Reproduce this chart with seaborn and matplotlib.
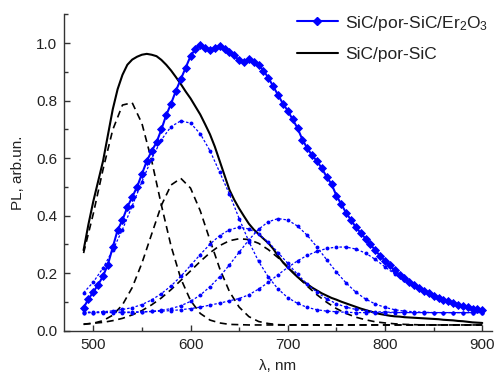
import numpy as np
import pandas as pd
import matplotlib
matplotlib.use("Agg")
import matplotlib.pyplot as plt
from matplotlib.lines import Line2D
from matplotlib.ticker import MultipleLocator
import seaborn as sns

# ---------------- data ----------------
# main spectra (5 nm step)
wl_main = list(range(490, 901, 5))
pl_er = [0.08, 0.11, 0.135, 0.16, 0.19, 0.23, 0.29, 0.35, 0.385, 0.43,
         0.465, 0.50, 0.545, 0.59, 0.625, 0.655, 0.70, 0.75, 0.79, 0.835,
         0.875, 0.915, 0.955, 0.98, 0.995, 0.985, 0.975, 0.985, 0.99, 0.98,
         0.968, 0.958, 0.94, 0.935, 0.945, 0.935, 0.925, 0.905, 0.88, 0.85,
         0.82, 0.79, 0.765, 0.735, 0.705, 0.665, 0.635, 0.61, 0.59, 0.565,
         0.535, 0.51, 0.47, 0.44, 0.41, 0.385, 0.36, 0.34, 0.32, 0.30,
         0.28, 0.26, 0.243, 0.227, 0.21, 0.195, 0.182, 0.17, 0.158, 0.148,
         0.139, 0.13, 0.122, 0.115, 0.108, 0.102, 0.096, 0.091, 0.086, 0.081,
         0.077, 0.074, 0.071]
pl_sic = [0.28, 0.37, 0.45, 0.52, 0.59, 0.68, 0.77, 0.84, 0.89, 0.925,
          0.943, 0.953, 0.96, 0.963, 0.96, 0.955, 0.942, 0.925, 0.905, 0.882,
          0.858, 0.832, 0.808, 0.78, 0.752, 0.718, 0.683, 0.64, 0.59, 0.54,
          0.49, 0.455, 0.425, 0.398, 0.372, 0.352, 0.336, 0.32, 0.305, 0.285,
          0.26, 0.238, 0.22, 0.203, 0.187, 0.173, 0.162, 0.15, 0.14, 0.13,
          0.122, 0.114, 0.108, 0.101, 0.095, 0.089, 0.083, 0.077, 0.072, 0.067,
          0.062, 0.058, 0.055, 0.052, 0.05, 0.049, 0.047, 0.046, 0.045, 0.044,
          0.043, 0.042, 0.041, 0.04, 0.038, 0.037, 0.036, 0.034, 0.033, 0.031,
          0.029, 0.028, 0.027]

# fitted components (10 nm step)
wl_fit = list(range(490, 901, 10))
er_c1 = [0.132, 0.169, 0.218, 0.280, 0.352, 0.434, 0.518, 0.598, 0.664, 0.710,
         0.730, 0.722, 0.685, 0.626, 0.551, 0.475, 0.390, 0.310, 0.241, 0.187,
         0.145, 0.115, 0.095, 0.081, 0.073, 0.068, 0.066, 0.064] + [0.063] * 14
er_c2 = [0.064, 0.065, 0.066, 0.069, 0.074, 0.080, 0.091, 0.107, 0.129, 0.156,
         0.189, 0.227, 0.265, 0.301, 0.331, 0.351, 0.360, 0.354, 0.336, 0.308,
         0.272, 0.234, 0.196, 0.162, 0.134, 0.111, 0.094, 0.082, 0.074, 0.069,
         0.066, 0.065, 0.064] + [0.063] * 9
er_c3 = [0.063] * 6 + [0.065, 0.067, 0.071, 0.077, 0.087, 0.102, 0.124, 0.153,
         0.188, 0.229, 0.273, 0.316, 0.353, 0.379, 0.390, 0.385, 0.364, 0.332,
         0.291, 0.247, 0.204, 0.166, 0.134, 0.110, 0.093, 0.081, 0.073, 0.068,
         0.066, 0.064] + [0.063] * 6
er_c4 = [0.063, 0.063, 0.064, 0.064, 0.065, 0.065, 0.066, 0.067, 0.068, 0.070,
         0.073, 0.077, 0.082, 0.089, 0.096, 0.104, 0.112, 0.125, 0.145, 0.168,
         0.195, 0.220, 0.243, 0.262, 0.276, 0.286, 0.291, 0.291, 0.284, 0.270,
         0.248, 0.222, 0.197, 0.177, 0.157, 0.139, 0.122, 0.108, 0.097, 0.087,
         0.078, 0.071]
sic_c1 = [0.27, 0.407, 0.561, 0.699, 0.785, 0.793, 0.721, 0.592, 0.437, 0.294,
          0.181, 0.105, 0.060, 0.037, 0.027, 0.022, 0.021] + [0.02] * 25
sic_c2 = [0.022, 0.026, 0.035, 0.054, 0.090, 0.150, 0.235, 0.336, 0.436, 0.507,
          0.530, 0.496, 0.417, 0.315, 0.216, 0.136, 0.082, 0.049, 0.032, 0.025,
          0.021] + [0.02] * 21
sic_c3 = [0.023, 0.026, 0.029, 0.035, 0.043, 0.055, 0.070, 0.090, 0.114, 0.143,
          0.175, 0.208, 0.241, 0.271, 0.296, 0.313, 0.320, 0.317, 0.304, 0.282,
          0.254, 0.222, 0.188, 0.155, 0.125, 0.099, 0.077, 0.060, 0.047, 0.038,
          0.031, 0.027, 0.024, 0.022, 0.021] + [0.02] * 7

label_er = "SiC/por-SiC/Er$_2$O$_3$"
label_sic = "SiC/por-SiC"

# ---------------- style ----------------
sns.set_style("ticks")
plt.rcParams['font.family'] = ['Liberation Sans', 'DejaVu Sans']
plt.rcParams['mathtext.fontset'] = 'custom'
plt.rcParams['mathtext.rm'] = 'Liberation Sans'
plt.rcParams['mathtext.it'] = 'Liberation Sans:italic'

BLUE = "#0000ff"
TXT = "#222222"

fig = plt.figure(figsize=(5.01, 3.81), dpi=100)
ax = fig.add_axes([0.128, 0.132, 0.854, 0.830])

# black components (dashed)
for comp in (sic_c1, sic_c2, sic_c3):
    sns.lineplot(x=wl_fit, y=comp, ax=ax, color="black", linewidth=1.2,
                 linestyle=(0, (4.2, 2.8)), sort=False, zorder=2)

# black measured spectrum
sns.lineplot(x=wl_main, y=pl_sic, ax=ax, color="black", linewidth=1.5,
             sort=False, zorder=3)

# blue components (dotted with small markers)
for comp in (er_c1, er_c2, er_c3, er_c4):
    sns.lineplot(x=wl_fit, y=comp, ax=ax, color=BLUE, linewidth=0.9,
                 linestyle=(0, (2, 1.5)), marker='o', markersize=2.8,
                 markeredgewidth=0, sort=False, zorder=4)

# blue measured spectrum
sns.lineplot(x=wl_main, y=pl_er, ax=ax, color=BLUE, linewidth=1.5,
             marker='D', markersize=4.5, markeredgecolor=BLUE,
             markeredgewidth=0.6, sort=False, zorder=5)

ax.set_xlim(470, 910)
ax.set_ylim(0, 1.1)
ax.xaxis.set_major_locator(MultipleLocator(100))
ax.xaxis.set_minor_locator(MultipleLocator(50))
ax.yaxis.set_major_locator(MultipleLocator(0.2))
ax.yaxis.set_minor_locator(MultipleLocator(0.1))
ax.yaxis.set_major_formatter(matplotlib.ticker.FormatStrFormatter('%.1f'))

ax.tick_params(which='both', direction='in', colors='#333333', labelcolor=TXT,
               labelsize=11, width=1.0)
ax.tick_params(which='major', length=4.5, pad=5)
ax.tick_params(which='minor', length=2.8)

sns.despine(ax=ax)
for s in ('left', 'bottom'):
    ax.spines[s].set_linewidth(1.0)
    ax.spines[s].set_color('#333333')

ax.set_xlabel("λ, nm", fontsize=11, color=TXT, labelpad=5)
ax.set_ylabel("PL, arb.un.", fontsize=11, color=TXT, labelpad=8)

handles = [
    Line2D([], [], color=BLUE, linewidth=1.5, marker='D', markersize=4.5),
    Line2D([], [], color="black", linewidth=1.5),
]
leg = ax.legend(handles, [label_er, label_sic], loc='upper left',
                bbox_to_anchor=(0.527, 1.025), frameon=False, fontsize=12.5,
                handlelength=2.4, handletextpad=0.4, labelspacing=0.85,
                borderaxespad=0.0)
for t in leg.get_texts():
    t.set_color(TXT)

fig.savefig("out.png", dpi=100)
